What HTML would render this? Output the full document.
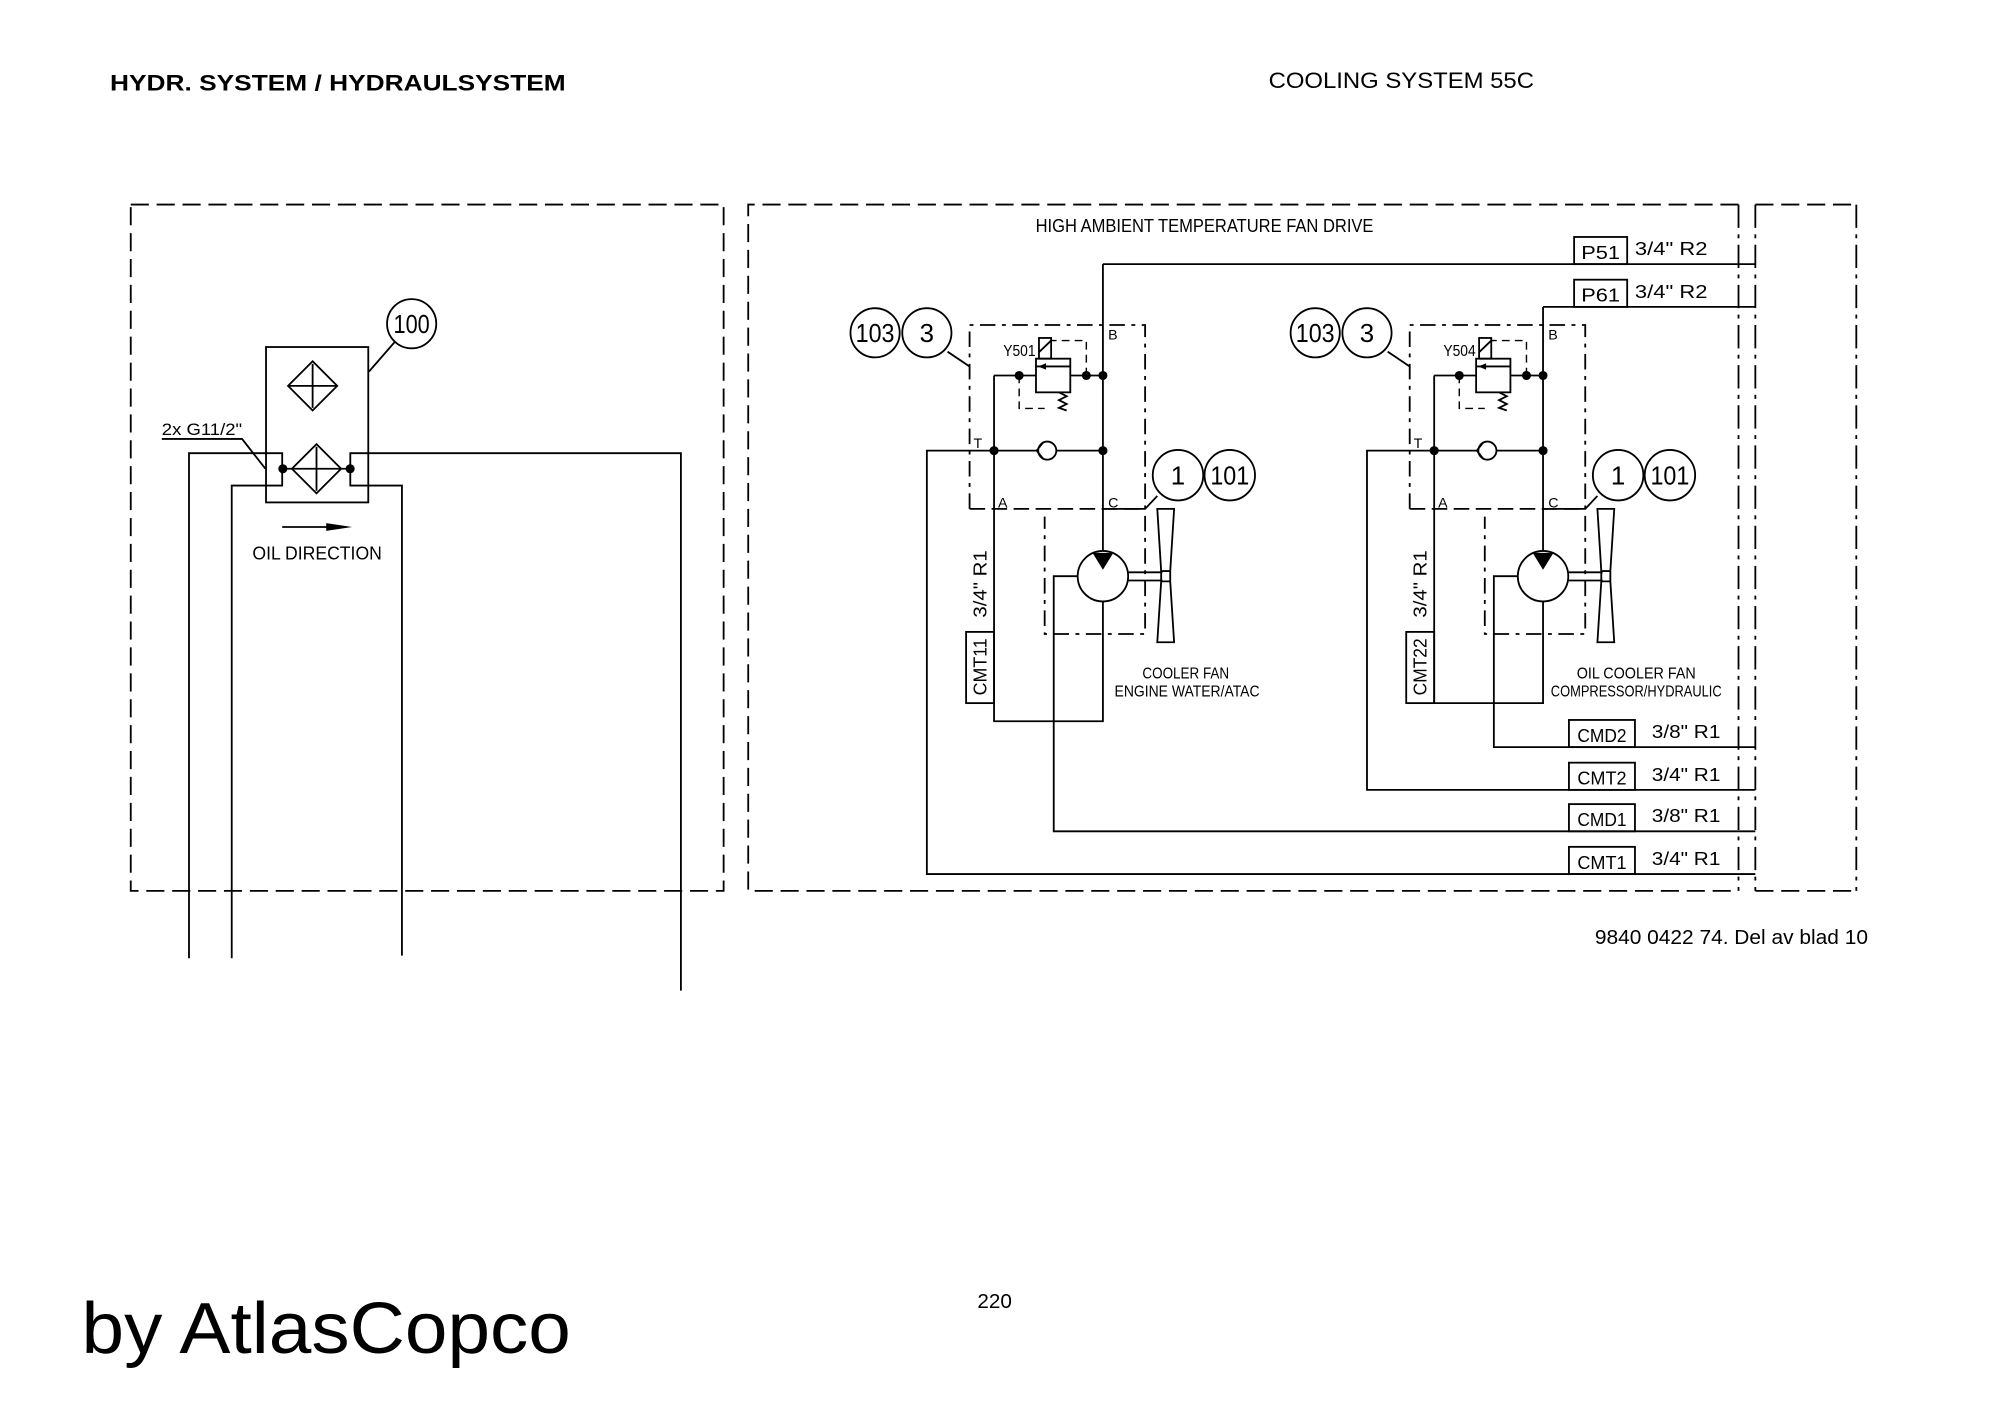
<!DOCTYPE html>
<html><head><meta charset="utf-8"><style>
html,body{margin:0;padding:0;background:#fff;}
svg{display:block;}
.t{font-family:"Liberation Sans",sans-serif;fill:#000;}
</style></head><body>
<svg width="2000" height="1414" viewBox="0 0 1545 1092" preserveAspectRatio="none" xmlns="http://www.w3.org/2000/svg">
<rect width="1545" height="1092" fill="#fff"/>
<g fill="none" stroke="#000" stroke-width="1.4">
<!-- frames -->
<rect x="101" y="158" width="458" height="530" stroke-dasharray="14 6"/>
<path d="M1343 158 H578 V688 H1343" stroke-dasharray="14 6"/>
<path d="M1343 158 V688" stroke-dasharray="18 5 3 5"/>
<path d="M1356 158 V688" stroke-dasharray="18 5 3 5"/>
<path d="M1356 158 H1434 M1356 688 H1434" stroke-dasharray="14 6"/>
<path d="M1434 158 V688" stroke-dasharray="18 5 3 5"/>

<!-- left panel -->
<rect x="205.5" y="268" width="79" height="120"/>
<path d="M241.5 279 L260.5 298 L241.5 317 L222.5 298 Z M241.5 281 V315 M222.5 298 H260.5"/>
<path d="M244.5 343 L263.5 362 L244.5 381 L225.5 362 Z M244.5 345 V379 M225.5 362 H263.5"/>
<path d="M146 740 V350 H218 V375 H179 V740"/>
<path d="M526 765 V350 H270.6 V375 H310.5 V738"/>
<path d="M218 362 H225.5 M263.5 362 H270.6"/>
<circle cx="318" cy="250" r="19"/>
<path d="M285 287 L305 264"/>
<path d="M125 339 H187 L205 362"/>
<path d="M218 407 H255"/>
</g>
<g fill="#000">
<circle cx="218.5" cy="362" r="3.5"/><circle cx="270.5" cy="362" r="3.5"/>
<path d="M252 404 L272 407 L252 410 Z"/>
</g>
<text class="t" x="318" y="257" font-size="20" text-anchor="middle" textLength="28" lengthAdjust="spacingAndGlyphs">100</text>
<text class="t" x="125" y="336" font-size="13" textLength="62" lengthAdjust="spacingAndGlyphs">2x G11/2"</text>
<text class="t" x="195" y="432" font-size="14" textLength="100" lengthAdjust="spacingAndGlyphs">OIL DIRECTION</text>

<defs>
<g id="valve">
<g fill="none" stroke="#000" stroke-width="1.4">
<path d="M749 393 V251 H884.6 V489.6 H807 V399" stroke-dasharray="12 5 3 5"/>
<path d="M749 393 H884.6" stroke-dasharray="12 5"/>
<circle cx="676" cy="257" r="19"/><circle cx="716" cy="257" r="19"/>
<path d="M732 271.6 L749 283"/>
<path d="M852 290 V425"/>
<path d="M767.9 348 H802 M816 348 H852"/>
<path d="M767.9 290 H800.3 M826.8 290 H852"/>
<path d="M767.9 290 V348"/>
<path d="M852 393 H884.6 L894 383"/>
<circle cx="852" cy="445" r="19.5"/>
<path d="M871.5 442 H898 M871.5 448.3 H898"/>
<polygon points="894,393 907,393 904,441 904,449 907,496 894,496 897,449 897,441"/>
<path d="M897 441 H904 M897 449 H904"/>
<circle cx="809" cy="348" r="7" fill="#fff"/>
<path d="M806 341.5 L800.8 348 L806 354.5"/>
<path d="M787.3 290 V315.4 H807 M839.2 290 V263 H812.5" stroke-dasharray="6 4" stroke-width="1.1"/>
<rect x="800.3" y="277" width="26.5" height="26"/>
<path d="M800.3 283 H826.8"/>
<rect x="802.6" y="261" width="9.4" height="16"/>
<path d="M802.6 272 L812 263"/>
<path d="M818 303 L824 306 L818 309 L824 312 L818 315 L824 317"/>
</g>
<g fill="#000">
<path d="M844 427 L860 427 L852 440 Z"/>
<path d="M808 280.5 L802 283 L808 285.5 Z"/>
<circle cx="787.3" cy="290" r="3.5"/><circle cx="839.2" cy="290" r="3.5"/><circle cx="852" cy="290" r="3.5"/>
<circle cx="767.9" cy="348" r="3.5"/><circle cx="852" cy="348" r="3.5"/>
</g>
<text class="t" x="676" y="264" font-size="20" text-anchor="middle" textLength="30" lengthAdjust="spacingAndGlyphs">103</text>
<text class="t" x="716" y="264" font-size="20" text-anchor="middle">3</text>
<circle cx="910" cy="367" r="19.5" fill="none" stroke="#000" stroke-width="1.4"/>
<circle cx="950" cy="367" r="19.5" fill="none" stroke="#000" stroke-width="1.4"/>
<text class="t" x="910" y="374" font-size="20" text-anchor="middle">1</text>
<text class="t" x="950" y="374" font-size="20" text-anchor="middle" textLength="30" lengthAdjust="spacingAndGlyphs">101</text>
<text class="t" x="752" y="346" font-size="11">T</text>
<text class="t" x="856" y="262" font-size="11">B</text>
<text class="t" x="771" y="392" font-size="11">A</text>
<text class="t" x="856" y="392" font-size="11">C</text>
<rect x="746.3" y="488" width="21.6" height="55" fill="none" stroke="#000" stroke-width="1.4"/>
<text class="t" font-size="14" text-anchor="middle" transform="translate(762,451) rotate(-90)" textLength="52" lengthAdjust="spacingAndGlyphs">3/4" R1</text>
</g>
</defs>

<use href="#valve"/>
<use href="#valve" transform="translate(340,0)"/>

<g fill="none" stroke="#000" stroke-width="1.4">
<!-- valve1 pipes -->
<path d="M852 204 V290 M852 204 H1356"/>
<path d="M767.9 348 V557 H852 V464.5"/>
<path d="M832.5 445 H814 V642 H1356"/>
<path d="M767.9 348 H716 V675 H1356"/>
<!-- valve2 pipes -->
<path d="M1192 237 V290 M1192 237 H1356"/>
<path d="M1107.9 348 V543 H1192 V464.5"/>
<path d="M1172.5 445 H1154 V577 H1356"/>
<path d="M1107.9 348 H1056 V610 H1356"/>
<!-- port boxes -->
<rect x="1216" y="183" width="41" height="21"/>
<rect x="1216" y="216" width="41" height="21"/>
<rect x="1212" y="556" width="51" height="21"/>
<rect x="1212" y="589" width="51" height="21"/>
<rect x="1212" y="621" width="51" height="21"/>
<rect x="1212" y="654" width="51" height="21"/>
</g>

<g class="t" font-size="14">
<text x="1236.5" y="200" text-anchor="middle" textLength="30" lengthAdjust="spacingAndGlyphs">P51</text>
<text x="1236.5" y="233" text-anchor="middle" textLength="30" lengthAdjust="spacingAndGlyphs">P61</text>
<text x="1263" y="197" textLength="56" lengthAdjust="spacingAndGlyphs">3/4" R2</text>
<text x="1263" y="230" textLength="56" lengthAdjust="spacingAndGlyphs">3/4" R2</text>
<text x="1237.5" y="573" text-anchor="middle" textLength="38" lengthAdjust="spacingAndGlyphs">CMD2</text>
<text x="1237.5" y="606" text-anchor="middle" textLength="38" lengthAdjust="spacingAndGlyphs">CMT2</text>
<text x="1237.5" y="638" text-anchor="middle" textLength="38" lengthAdjust="spacingAndGlyphs">CMD1</text>
<text x="1237.5" y="671" text-anchor="middle" textLength="38" lengthAdjust="spacingAndGlyphs">CMT1</text>
<text x="1276" y="570" textLength="53" lengthAdjust="spacingAndGlyphs">3/8" R1</text>
<text x="1276" y="603" textLength="53" lengthAdjust="spacingAndGlyphs">3/4" R1</text>
<text x="1276" y="635" textLength="53" lengthAdjust="spacingAndGlyphs">3/8" R1</text>
<text x="1276" y="668" textLength="53" lengthAdjust="spacingAndGlyphs">3/4" R1</text>
</g>
<g class="t" font-size="12">
<text x="775" y="275" textLength="25" lengthAdjust="spacingAndGlyphs">Y501</text>
<text x="1115" y="275" textLength="25" lengthAdjust="spacingAndGlyphs">Y504</text>
<text x="916" y="524" text-anchor="middle" textLength="67" lengthAdjust="spacingAndGlyphs">COOLER FAN</text>
<text x="917" y="538" text-anchor="middle" textLength="112" lengthAdjust="spacingAndGlyphs">ENGINE WATER/ATAC</text>
<text x="1264" y="524" text-anchor="middle" textLength="92" lengthAdjust="spacingAndGlyphs">OIL COOLER FAN</text>
<text x="1264" y="538" text-anchor="middle" textLength="132" lengthAdjust="spacingAndGlyphs">COMPRESSOR/HYDRAULIC</text>
</g>
<text class="t" font-size="14" text-anchor="middle" transform="translate(762,515) rotate(-90)" textLength="44" lengthAdjust="spacingAndGlyphs">CMT11</text>
<text class="t" font-size="14" text-anchor="middle" transform="translate(1102,515) rotate(-90)" textLength="44" lengthAdjust="spacingAndGlyphs">CMT22</text>
<text class="t" x="800" y="179" font-size="14" textLength="261" lengthAdjust="spacingAndGlyphs">HIGH AMBIENT TEMPERATURE FAN DRIVE</text>

<text class="t" x="85" y="70" font-size="17" font-weight="bold" textLength="352" lengthAdjust="spacingAndGlyphs">HYDR. SYSTEM / HYDRAULSYSTEM</text>
<text class="t" x="980" y="68" font-size="17" textLength="205" lengthAdjust="spacingAndGlyphs">COOLING SYSTEM 55C</text>
<text class="t" x="1232" y="729" font-size="16" textLength="211" lengthAdjust="spacingAndGlyphs">9840 0422 74. Del av blad 10</text>
<text class="t" x="755" y="1010" font-size="16">220</text>
<text class="t" x="63" y="1045" font-size="56" textLength="378" lengthAdjust="spacingAndGlyphs">by AtlasCopco</text>
</svg>
</body></html>
